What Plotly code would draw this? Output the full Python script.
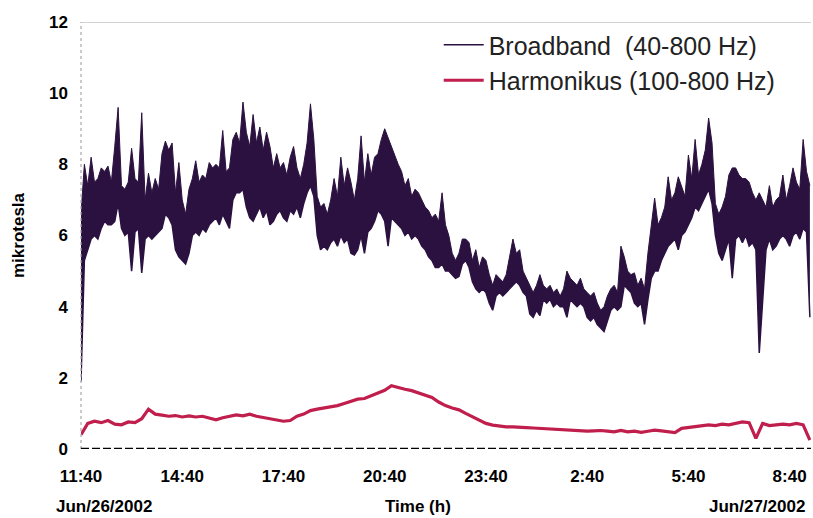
import pandas as pd
import plotly.graph_objects as go

# ---------------- data ----------------
start = "2002-06-26 11:40"
tick_labels = ["11:40", "14:40", "17:40", "20:40", "23:40", "2:40", "5:40", "8:40"]

# Broadband (40-800 Hz): upper / lower envelope of the signal, every 6 minutes
broadband_upper = [
    6.6, 8.0, 7.4, 8.2, 7.5, 7.6, 7.9, 7.8, 7.95, 7.5,
    8.5, 9.6, 7.4, 7.3, 7.5, 8.45, 7.6, 7.5, 9.45, 7.0,
    7.75, 7.2, 7.6, 7.3, 8.3, 8.65, 8.4, 8.6, 7.2, 8.05,
    7.0, 6.6, 7.3, 7.6, 8.1, 7.5, 7.7, 7.6, 8.05, 7.9,
    8.0, 7.9, 8.95, 7.8, 7.9, 8.7, 8.9, 8.6, 9.75, 8.9,
    8.5, 9.4, 8.6, 9.05, 8.4, 8.9, 8.5, 7.9, 8.3, 7.9,
    8.05, 7.7, 8.2, 8.5, 7.9, 7.6, 8.0, 8.6, 9.7, 8.7,
    7.1, 6.8, 6.9, 6.6, 7.0, 7.6, 7.1, 8.2, 7.4, 7.9,
    7.5, 7.0, 7.6, 8.8, 7.5, 8.3, 7.7, 8.2, 8.3, 8.7,
    9.0, 8.75, 8.5, 8.2, 8.0, 7.8, 7.4, 7.6, 7.1, 7.3,
    7.2, 7.0, 6.8, 6.7, 6.5, 6.6, 6.4, 7.2, 6.3, 6.0,
    5.5, 5.3, 5.5, 5.9, 5.9, 5.8, 5.3, 5.6, 5.1, 5.4,
    5.3, 4.9, 4.6, 4.9, 4.8, 4.7, 4.9, 5.4, 5.9, 5.5,
    5.6, 5.0, 4.8, 4.6, 4.4, 4.6, 4.9, 4.6, 4.5, 4.6,
    4.4, 4.5, 4.3, 4.5, 5.0, 4.8, 4.7, 4.6, 4.8, 4.5,
    4.4, 4.3, 4.4, 4.1, 3.9, 4.0, 4.3, 4.5, 4.6, 4.4,
    5.7, 5.4, 5.0, 4.9, 4.95, 4.6, 4.8, 4.5, 5.5, 6.2,
    7.05, 6.3, 6.5, 6.8, 7.65, 7.0, 7.2, 7.65, 7.4, 7.1,
    8.26, 7.6, 8.7, 7.7, 8.0, 8.4, 9.3, 8.6, 6.9, 6.6,
    6.8, 7.1, 7.7, 7.9, 7.9, 7.7, 7.6, 7.6, 7.5, 7.2,
    7.0, 7.2, 7.0, 6.8, 7.4, 6.8, 7.0, 7.1, 7.7, 7.0,
    7.4, 7.9, 7.5, 7.3, 8.7, 7.8, 7.4,
]
broadband_lower = [
    1.9, 5.3, 5.6, 5.9, 6.0, 5.9, 6.2, 6.4, 6.3, 6.3,
    6.4, 6.9, 6.2, 6.0, 6.1, 5.0, 6.1, 6.2, 4.95, 5.9,
    6.0, 5.9, 6.0, 6.1, 6.2, 6.6, 6.5, 6.3, 5.6, 5.4,
    5.3, 5.2, 5.5, 6.0, 6.1, 6.0, 6.2, 6.1, 6.3, 6.4,
    6.5, 6.3, 6.6, 6.4, 6.2, 7.0, 7.2, 7.2, 7.3, 6.8,
    6.5, 6.4, 6.6, 6.8, 6.5, 6.7, 6.3, 6.4, 6.6, 6.7,
    6.5, 6.4, 6.7, 6.6, 6.8, 6.5, 6.9, 7.2, 7.4, 7.1,
    6.0, 5.6, 5.7, 5.6, 5.8, 5.9, 5.7, 6.0, 5.8, 5.9,
    5.5, 5.45, 5.6, 6.0, 5.5, 6.1, 6.2, 6.4, 6.7, 6.6,
    6.4, 5.7, 6.5, 6.4, 6.3, 6.2, 6.0, 6.1, 5.9, 6.0,
    5.9, 5.7, 5.6, 5.4, 5.3, 5.1, 5.1, 5.2, 5.0, 5.0,
    4.9, 4.8, 4.85, 5.2, 5.3, 5.1, 4.7, 4.5, 4.4, 4.5,
    4.4, 4.1, 3.9, 4.3, 4.4, 4.3, 4.4, 4.5, 4.6, 4.7,
    4.6, 4.4, 4.3, 3.8, 3.7, 3.9, 3.75, 4.2, 4.1, 4.2,
    4.0, 4.1, 4.0, 4.0, 3.7, 4.2, 4.1, 4.0, 4.1, 4.0,
    3.7, 3.6, 3.7, 3.5, 3.4, 3.3, 3.6, 3.9, 4.0, 3.9,
    4.0, 4.6, 4.5, 4.4, 4.1, 4.0, 4.1, 3.5, 4.2, 4.8,
    5.0, 5.0, 5.3, 5.5, 5.7, 5.8, 5.9, 5.6, 6.0, 6.1,
    6.3, 6.5, 6.8, 6.7, 6.9, 7.1, 7.3, 6.9, 6.0, 5.5,
    5.3, 5.6, 5.9, 4.8, 5.9, 6.0, 5.8, 6.0, 5.7, 5.8,
    5.6, 2.7, 4.2, 5.6, 5.9, 5.6, 5.7, 5.9, 6.0, 5.9,
    5.7, 6.0, 6.1, 5.9, 6.2, 6.1, 3.7,
]

# Harmonikus (100-800 Hz), every 12 minutes
harmonic = [
    0.40, 0.72, 0.78, 0.74, 0.80, 0.70, 0.68, 0.76, 0.74, 0.85,
    1.12, 0.98, 0.95, 0.92, 0.94, 0.90, 0.93, 0.90, 0.92, 0.87,
    0.82, 0.88, 0.92, 0.96, 0.93, 0.98, 0.92, 0.88, 0.85, 0.82,
    0.78, 0.80, 0.92, 0.98, 1.08, 1.12, 1.15, 1.18, 1.22, 1.28,
    1.35, 1.40, 1.42, 1.50, 1.58, 1.65, 1.78, 1.72, 1.68, 1.64,
    1.58, 1.50, 1.45, 1.32, 1.22, 1.15, 1.10, 1.00, 0.90, 0.80,
    0.72, 0.67, 0.64, 0.62, 0.62, 0.60, 0.60, 0.59, 0.58, 0.56,
    0.55, 0.54, 0.54, 0.52, 0.50, 0.50, 0.51, 0.52, 0.50, 0.48,
    0.52, 0.48, 0.50, 0.47, 0.50, 0.53, 0.51, 0.48, 0.46, 0.58,
    0.60, 0.62, 0.64, 0.68, 0.66, 0.70, 0.68, 0.72, 0.76, 0.74,
    0.30, 0.72, 0.66, 0.68, 0.70, 0.68, 0.72, 0.68, 0.25,
]

y_ticks = [0, 2, 4, 6, 8, 10, 12]

# ---------------- figure ----------------
t_bb = pd.date_range(start, periods=len(broadband_upper), freq="6min")
t_h = pd.date_range(start, periods=len(harmonic), freq="12min")
tick_vals = pd.date_range(start, periods=len(tick_labels), freq="3h")

BB = "#2b1140"
HK = "#c01e4c"
FONT = "Arial, Liberation Sans, sans-serif"

fig = go.Figure()
fig.add_trace(go.Scatter(
    x=t_bb, y=broadband_lower, mode="lines", name="Broadband  (40-800 Hz)",
    line=dict(color=BB, width=1.5), showlegend=True, legendrank=1))
fig.add_trace(go.Scatter(
    x=t_bb, y=broadband_upper, mode="lines", fill="tonexty", fillcolor=BB,
    line=dict(color=BB, width=1), showlegend=False, name="Broadband upper"))
fig.add_trace(go.Scatter(
    x=t_h, y=harmonic, mode="lines", name="Harmonikus (100-800 Hz)",
    line=dict(color=HK, width=3.2), legendrank=2))

fig.update_layout(
    width=813, height=518,
    margin=dict(l=81, r=2, t=22, b=69),
    paper_bgcolor="white", plot_bgcolor="white",
    font=dict(family=FONT, color="black"),
    showlegend=True,
    legend=dict(x=0.49, y=1.0, xanchor="left", yanchor="top",
                traceorder="normal",
                bgcolor="rgba(0,0,0,0)", font=dict(size=25, color="#222"),
                itemwidth=40),
    xaxis=dict(type="date", range=["2002-06-26 11:40", "2002-06-27 09:18"],
               tickvals=tick_vals, ticktext=tick_labels,
               tickfont=dict(size=17, weight="bold"),
               showgrid=False, zeroline=False, showline=False, ticks="",
               ticklabelstandoff=15),
    yaxis=dict(range=[0, 12], tickvals=y_ticks,
               tickfont=dict(size=17, weight="bold"),
               showgrid=False, zeroline=False, showline=False, ticks="",
               ticklabelstandoff=12),
    shapes=[
        dict(type="line", xref="paper", yref="y", x0=0, x1=1, y0=12, y1=12,
             line=dict(color="#a8a8a8", width=1.2)),
        dict(type="line", xref="paper", yref="y", x0=0, x1=0, y0=0, y1=12,
             line=dict(color="#a8a8a8", width=1.2, dash="dot")),
        dict(type="line", xref="paper", yref="y", x0=0, x1=1, y0=0, y1=0,
             line=dict(color="black", width=2.5, dash="8px,3px")),
    ],
    annotations=[
        dict(text="mikrotesla", xref="paper", yref="paper", x=0, y=0.5,
             xshift=-74, textangle=-90, showarrow=False,
             font=dict(size=17, weight="bold")),
        dict(text="Jun/26/2002", xref="paper", yref="paper", x=0, y=0,
             xanchor="left", yanchor="middle", xshift=-27, yshift=-57,
             showarrow=False, font=dict(size=17, weight="bold")),
        dict(text="Time (h)", xref="paper", yref="paper", x=0.4616, y=0,
             xanchor="center", yanchor="middle", yshift=-57,
             showarrow=False, font=dict(size=17, weight="bold")),
        dict(text="Jun/27/2002", xref="paper", yref="paper", x=1, y=0,
             xanchor="right", yanchor="middle", xshift=-4, yshift=-57,
             showarrow=False, font=dict(size=17, weight="bold")),
    ],
)

fig.write_html(
    "out.html",
    config={"displayModeBar": False},
    post_script="document.body.style.margin='0';document.body.style.overflow='hidden';",
)
